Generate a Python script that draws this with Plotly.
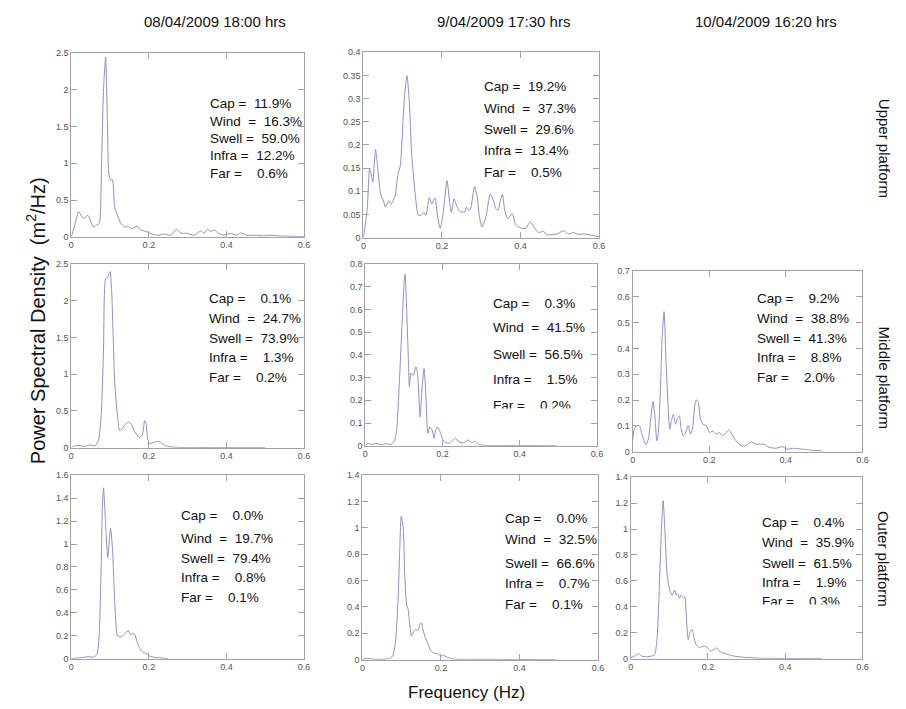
import plotly.graph_objects as go

# ---------------- spectra (frequency in Hz, PSD in m^2/Hz) ----------------
# Upper platform, 08/04/2009 18:00
f_up_a = [0, 0.010, 0.019, 0.031, 0.043, 0.057, 0.066, 0.072, 0.078, 0.083, 0.0885, 0.093, 0.097, 0.102,
          0.106, 0.112, 0.119, 0.128, 0.138, 0.146, 0.155, 0.170, 0.180, 0.193, 0.206, 0.223, 0.240,
          0.257, 0.271, 0.283, 0.300, 0.317, 0.334, 0.342, 0.351, 0.359, 0.369, 0.380, 0.393, 0.410,
          0.427, 0.436, 0.453, 0.478, 0.495, 0.512, 0.540, 0.570, 0.600]
p_up_a = [0, 0.18, 0.34, 0.25, 0.29, 0.13, 0.16, 0.18, 1.0, 2.0, 2.45, 1.6, 0.85, 0.77,
          0.78, 0.40, 0.29, 0.18, 0.13, 0.14, 0.11, 0.14, 0.09, 0.07, 0.04, 0.02, 0.035,
          0.02, 0.10, 0.05, 0.045, 0.02, 0.08, 0.045, 0.10, 0.07, 0.09, 0.045, 0.02, 0.045,
          0.02, 0.05, 0.02, 0.02, 0.01, 0.02, 0.01, 0.005, 0.003]

# Upper platform, 9/04/2009 17:30
f_up_b = [0, 0.004, 0.010, 0.016, 0.020, 0.024, 0.031, 0.038, 0.044, 0.052, 0.056, 0.065, 0.071, 0.081,
          0.088, 0.094, 0.100, 0.105, 0.111, 0.117, 0.123, 0.132, 0.140, 0.147, 0.153, 0.159, 0.168,
          0.174, 0.182, 0.189, 0.196, 0.203, 0.213, 0.220, 0.224, 0.231, 0.237, 0.245, 0.258, 0.262,
          0.270, 0.274, 0.283, 0.290, 0.295, 0.302, 0.312, 0.323, 0.331, 0.337, 0.343, 0.348, 0.354,
          0.360, 0.368, 0.379, 0.388, 0.396, 0.405, 0.413, 0.425, 0.434, 0.446, 0.459, 0.467, 0.480,
          0.493, 0.510, 0.522, 0.535, 0.547, 0.560, 0.577, 0.600]
p_up_b = [0, 0.023, 0.066, 0.150, 0.137, 0.120, 0.190, 0.137, 0.094, 0.077, 0.066, 0.080, 0.073, 0.091,
          0.137, 0.155, 0.237, 0.308, 0.350, 0.293, 0.180, 0.094, 0.048, 0.048, 0.055, 0.048, 0.087,
          0.073, 0.086, 0.045, 0.020, 0.052, 0.123, 0.073, 0.055, 0.084, 0.070, 0.057, 0.055, 0.066,
          0.059, 0.066, 0.110, 0.087, 0.048, 0.023, 0.045, 0.094, 0.080, 0.063, 0.059, 0.077, 0.094,
          0.059, 0.041, 0.052, 0.027, 0.023, 0.020, 0.020, 0.034, 0.023, 0.011, 0.014, 0.006, 0.007,
          0.008, 0.015, 0.008, 0.011, 0.007, 0.008, 0.006, 0.002]

# Middle platform, 08/04/2009 18:00
f_mid_a = [0, 0.006, 0.019, 0.036, 0.049, 0.061, 0.070, 0.077, 0.083, 0.0885, 0.094, 0.097, 0.100, 0.104,
           0.108, 0.112, 0.119, 0.125, 0.134, 0.146, 0.155, 0.163, 0.176, 0.183, 0.189, 0.193, 0.197,
           0.202, 0.214, 0.227, 0.240, 0.257, 0.283, 0.325, 0.400, 0.500]
p_mid_a = [0, 0.02, 0.03, 0.018, 0.04, 0.022, 0.10, 0.44, 1.33, 2.30, 2.32, 2.37, 2.40, 2.14,
           1.51, 0.88, 0.44, 0.23, 0.28, 0.35, 0.32, 0.22, 0.14, 0.17, 0.37, 0.32, 0.12,
           0.054, 0.076, 0.085, 0.03, 0.01, 0.003, 0.002, 0.001, 0.0]

# Middle platform, 9/04/2009 17:30
f_mid_b = [0, 0.007, 0.015, 0.028, 0.041, 0.054, 0.067, 0.075, 0.081, 0.088, 0.096, 0.101, 0.103, 0.107,
           0.112, 0.114, 0.118, 0.124, 0.131, 0.135, 0.142, 0.146, 0.152, 0.156, 0.162, 0.167, 0.173,
           0.178, 0.182, 0.188, 0.195, 0.203, 0.216, 0.224, 0.233, 0.242, 0.254, 0.267, 0.276, 0.284,
           0.293, 0.310, 0.400, 0.496]
p_mid_b = [0, 0.010, 0.006, 0.010, 0.004, 0.009, 0.006, 0.020, 0.068, 0.280, 0.570, 0.735, 0.756, 0.600,
           0.350, 0.260, 0.320, 0.310, 0.348, 0.320, 0.126, 0.235, 0.340, 0.250, 0.054, 0.083, 0.068,
           0.032, 0.068, 0.083, 0.054, 0.020, 0.010, 0.020, 0.032, 0.017, 0.013, 0.025, 0.013, 0.020,
           0.006, 0.001, 0.001, 0.0]

# Middle platform, 10/04/2009 16:20
f_mid_c = [0, 0.004, 0.009, 0.018, 0.024, 0.031, 0.035, 0.041, 0.047, 0.053, 0.058, 0.063, 0.067, 0.072,
           0.077, 0.082, 0.087, 0.093, 0.097, 0.102, 0.106, 0.112, 0.117, 0.122, 0.126, 0.132, 0.137,
           0.145, 0.151, 0.156, 0.162, 0.166, 0.171, 0.177, 0.184, 0.192, 0.201, 0.209, 0.218, 0.227,
           0.235, 0.244, 0.251, 0.259, 0.270, 0.283, 0.296, 0.309, 0.322, 0.334, 0.343, 0.356, 0.373,
           0.391, 0.403, 0.421, 0.438, 0.455, 0.472, 0.490, 0.498]
p_mid_c = [0.042, 0.087, 0.100, 0.100, 0.068, 0.036, 0.027, 0.049, 0.125, 0.195, 0.138, 0.042, 0.074, 0.227,
           0.445, 0.543, 0.355, 0.163, 0.087, 0.125, 0.144, 0.106, 0.131, 0.138, 0.093, 0.061, 0.068,
           0.102, 0.068, 0.087, 0.176, 0.200, 0.195, 0.125, 0.106, 0.100, 0.074, 0.080, 0.068, 0.074,
           0.061, 0.074, 0.084, 0.068, 0.042, 0.023, 0.023, 0.038, 0.029, 0.029, 0.029, 0.017, 0.013,
           0.019, 0.010, 0.013, 0.010, 0.008, 0.004, 0.004, 0.0]

# Outer platform, 08/04/2009 18:00
f_out_a = [0, 0.010, 0.027, 0.044, 0.057, 0.066, 0.072, 0.077, 0.080, 0.083, 0.088, 0.094, 0.098, 0.101,
           0.106, 0.111, 0.115, 0.119, 0.128, 0.136, 0.147, 0.152, 0.159, 0.164, 0.170, 0.176, 0.185,
           0.193, 0.202, 0.215, 0.232, 0.249]
p_out_a = [0, 0.003, 0.009, 0.017, 0.014, 0.037, 0.22, 0.80, 1.31, 1.49, 1.20, 0.88, 1.03, 1.14,
           0.97, 0.57, 0.31, 0.20, 0.19, 0.21, 0.247, 0.21, 0.22, 0.21, 0.14, 0.095, 0.052,
           0.046, 0.023, 0.011, 0.006, 0.0]

# Outer platform, 9/04/2009 17:30
f_out_b = [0, 0.013, 0.025, 0.050, 0.067, 0.077, 0.084, 0.091, 0.095, 0.099, 0.104, 0.108, 0.113, 0.116,
           0.120, 0.125, 0.130, 0.136, 0.141, 0.146, 0.150, 0.154, 0.160, 0.167, 0.173, 0.181, 0.192,
           0.200, 0.206, 0.215, 0.227, 0.244, 0.278, 0.400, 0.495]
p_out_b = [0, 0.012, 0.005, 0.002, 0.007, 0.027, 0.13, 0.46, 0.83, 1.09, 1.00, 0.63, 0.41, 0.39,
           0.28, 0.18, 0.21, 0.23, 0.22, 0.26, 0.28, 0.23, 0.17, 0.12, 0.07, 0.052, 0.045,
           0.027, 0.032, 0.020, 0.007, 0.002, 0.002, 0.001, 0.0]

# Outer platform, 10/04/2009 16:20
f_out_c = [0, 0.011, 0.021, 0.028, 0.041, 0.054, 0.062, 0.068, 0.073, 0.079, 0.084, 0.089, 0.094, 0.101,
           0.107, 0.114, 0.118, 0.122, 0.126, 0.131, 0.137, 0.140, 0.145, 0.149, 0.154, 0.159, 0.163,
           0.169, 0.178, 0.184, 0.190, 0.199, 0.207, 0.216, 0.223, 0.229, 0.237, 0.246, 0.254, 0.267,
           0.284, 0.306, 0.340, 0.420, 0.495]
p_out_c = [0.008, 0.020, 0.040, 0.020, 0.015, 0.020, 0.030, 0.147, 0.45, 0.96, 1.22, 0.96, 0.66, 0.53,
           0.49, 0.53, 0.49, 0.50, 0.465, 0.49, 0.47, 0.478, 0.274, 0.147, 0.21, 0.224, 0.173,
           0.109, 0.084, 0.091, 0.097, 0.084, 0.058, 0.071, 0.084, 0.058, 0.046, 0.038, 0.030, 0.020,
           0.013, 0.008, 0.003, 0.001, 0.0]

# ---------------- energy partition (% of total) ----------------
band_names = ["Cap", "Wind", "Swell", "Infra", "Far"]
pct_up_a = [11.9, 16.3, 59.0, 12.2, 0.6]
pct_up_b = [19.2, 37.3, 29.6, 13.4, 0.5]
pct_mid_a = [0.1, 24.7, 73.9, 1.3, 0.2]
pct_mid_b = [0.3, 41.5, 56.5, 1.5, 0.2]
pct_mid_c = [9.2, 38.8, 41.3, 8.8, 2.0]
pct_out_a = [0.0, 19.7, 79.4, 0.8, 0.1]
pct_out_b = [0.0, 32.5, 66.6, 0.7, 0.1]
pct_out_c = [0.4, 35.9, 61.5, 1.9, 0.3]

# ---------------- labels and ticks ----------------
dates = ["08/04/2009 18:00 hrs", "9/04/2009 17:30 hrs", "10/04/2009 16:20 hrs"]
platforms = ["Upper platform", "Middle platform", "Outer platform"]
x_ticks = [0, 0.2, 0.4, 0.6]

W, H = 906, 709
FONT = "Arial, Liberation Sans, sans-serif"
LINE = "#8e8fc6"
AXIS = "#a3a3a3"

# panel layout: (freq, psd, pct, ymax, ydtick, box px [x0, x1, y0, y1], text left px,
#                text line centres px, text clip line px or None)
panels = [
    (f_up_a, p_up_a, pct_up_a, 2.5, 0.5, [69, 304, 49, 235], 207, [100, 118, 135, 153, 171], None),
    (f_up_b, p_up_b, pct_up_b, 0.4, 0.05, [364, 602, 48, 236], 484, [83, 105, 126, 148, 170], None),
    (f_mid_a, p_mid_a, pct_mid_a, 2.5, 0.5, [69, 304, 263, 449], 206, [298, 318, 338, 358, 378], None),
    (f_mid_b, p_mid_b, pct_mid_b, 0.8, 0.1, [366, 600, 263, 447], 493, [303, 327, 354, 380, 406], 409),
    (f_mid_c, p_mid_c, pct_mid_c, 0.7, 0.1, [636, 868, 270, 453], 760, [298, 318, 338, 358, 378], None),
    (f_out_a, p_out_a, pct_out_a, 1.6, 0.2, [69, 304, 477, 663], 178, [518, 541, 561, 581, 601], None),
    (f_out_b, p_out_b, pct_out_b, 1.4, 0.2, [363, 601, 477, 664], 505, [521, 542, 566, 587, 608], None),
    (f_out_c, p_out_c, pct_out_c, 1.4, 0.2, [634, 868, 479, 663], 765, [525, 545, 566, 586, 605], 608),
]


def px_x(v):
    return v / W


def px_y(v):
    return 1 - v / H


def band_label(name, val):
    sep = "\u00a0\u00a0=\u00a0\u00a0" if name == "Wind" else "\u00a0=\u00a0\u00a0"
    num = f"{val:.1f}%"
    if val < 10:
        num = "\u00a0\u00a0" + num
    return name + sep + num


fig = go.Figure()
layout = {}
annotations = []

for i, (f, p, pct, ymax, ydt, box, tx, ty, clip) in enumerate(panels):
    n = "" if i == 0 else str(i + 1)
    xa, ya = "x" + n, "y" + n
    fig.add_trace(go.Scatter(x=f, y=p, xaxis=xa, yaxis=ya, mode="lines",
                             line=dict(color=LINE, width=1, shape="spline", smoothing=0.6),
                             showlegend=False, hoverinfo="x+y"))
    common = dict(showline=True, linecolor=AXIS, linewidth=1, mirror="ticks", ticks="inside",
                  ticklen=6, tickcolor=AXIS, showgrid=False, zeroline=False,
                  tickfont=dict(family=FONT, size=9, color="#555555"))
    layout["xaxis" + n] = dict(domain=[px_x(box[0]), px_x(box[1])], range=[0, 0.6],
                               tickvals=x_ticks, anchor=ya, **common)
    layout["yaxis" + n] = dict(domain=[px_y(box[3]), px_y(box[2])], range=[0, ymax],
                               dtick=ydt, tick0=0, anchor=xa, **common)
    for name, val, yy in zip(band_names, pct, ty):
        annotations.append(dict(text=band_label(name, val), x=px_x(tx), y=px_y(yy),
                                xref="paper", yref="paper", xanchor="left", yanchor="middle",
                                showarrow=False, font=dict(family=FONT, size=13.5, color="#111111")))
    if clip is not None:
        # the text box of this panel is cut off through its last line
        annotations.append(dict(text="\u00a0", x=px_x(tx - 4), y=px_y(clip), xref="paper", yref="paper",
                                xanchor="left", yanchor="top", width=100, height=12, borderpad=0,
                                bgcolor="white", showarrow=False, font=dict(size=8)))

# column headings (dates)
for d, cx in zip(dates, [214, 506, 771]):
    annotations.append(dict(text=d, x=px_x(cx), y=px_y(17), xref="paper", yref="paper",
                            xanchor="center", yanchor="middle", showarrow=False,
                            font=dict(family=FONT, size=15, color="#111111")))

# row labels (platforms)
for pl, cy in zip(platforms, [145, 378, 562]):
    annotations.append(dict(text=pl, x=px_x(890), y=px_y(cy), xref="paper", yref="paper",
                            xanchor="center", yanchor="middle", textangle=90, showarrow=False,
                            font=dict(family=FONT, size=15, color="#111111")))

# shared axis titles
annotations.append(dict(text="Power Spectral Density  (m<sup>2</sup>/Hz)", x=px_x(33), y=px_y(320),
                        xref="paper", yref="paper", xanchor="center", yanchor="middle",
                        textangle=-90, showarrow=False,
                        font=dict(family=FONT, size=20, color="#111111")))
annotations.append(dict(text="Frequency (Hz)", x=px_x(468), y=px_y(697), xref="paper", yref="paper",
                        xanchor="center", yanchor="middle", showarrow=False,
                        font=dict(family=FONT, size=17, color="#111111")))

fig.update_layout(width=W, height=H, margin=dict(l=0, r=0, t=0, b=0),
                  paper_bgcolor="white", plot_bgcolor="white",
                  annotations=annotations, **layout)

fig.write_html("out.html")
